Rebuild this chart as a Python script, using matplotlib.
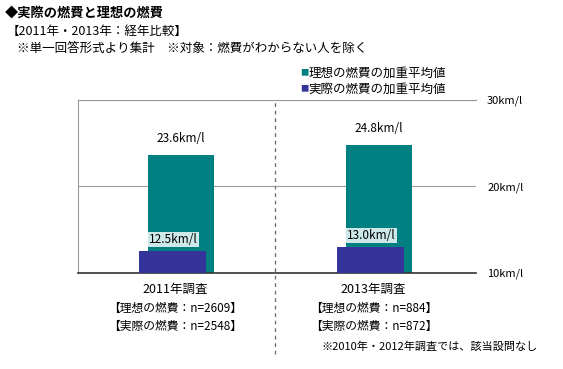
import matplotlib
matplotlib.use("Agg")
import matplotlib.pyplot as plt

plt.rcParams['font.family'] = ['Noto Sans CJK JP', 'DejaVu Sans']

# data
groups = ["2011年調査", "2013年調査"]
sample_notes = [["【理想の燃費：n=2609】", "【実際の燃費：n=2548】"],
                ["【理想の燃費：n=884】", "【実際の燃費：n=872】"]]
ideal = [23.6, 24.8]
actual = [12.5, 13.0]
series_names = ["理想の燃費の加重平均値", "実際の燃費の加重平均値"]
yticks = [10, 20, 30]

teal = "#008080"
navy = "#333399"

fig = plt.figure(figsize=(5.63, 3.69), dpi=100)
ax = fig.add_axes([0.1385, 0.2602, 0.7070, 0.4688])

centers = [0.5, 1.495]
w = 0.332
for i, c in enumerate(centers):
    ax.bar(c + 0.018, ideal[i] - 10, bottom=10, width=w, color=teal, zorder=2)
    ax.bar(c - 0.025, actual[i] - 10, bottom=10, width=w, color=navy, zorder=3)
    ax.text(c + 0.015, ideal[i] + 1.2, "%.1fkm/l" % ideal[i], ha="center", va="bottom", fontsize=8.5)
    ax.text(c - 0.02, actual[i] + 0.6, "%.1fkm/l" % actual[i], ha="center", va="bottom", fontsize=8.5,
            zorder=4, bbox=dict(boxstyle="square,pad=0.1", facecolor="#cde8e8", edgecolor="none"))
    ax.text(c - 0.01, -0.06, groups[i], transform=ax.get_xaxis_transform(), ha="center", va="top", fontsize=9)
    for j, note in enumerate(sample_notes[i]):
        ax.text(c - 0.01, -0.165 - j * 0.105, note, transform=ax.get_xaxis_transform(),
                ha="center", va="top", fontsize=8.5)

ax.set_xlim(0, 2)
ax.set_ylim(10, 30)
ax.set_xticks([])
ax.yaxis.tick_right()
ax.set_yticks(yticks)
ax.set_yticklabels(["%dkm/l" % t for t in yticks], fontsize=8)
ax.tick_params(axis="y", length=0, pad=8)
ax.grid(axis="y", color="#999999", linewidth=0.8, zorder=0)
for s in ["top", "left"]:
    ax.spines[s].set_color("#999999")
ax.spines["right"].set_visible(False)
ax.spines["bottom"].set_color("#333333")
ax.spines["bottom"].set_linewidth(1.2)

ax.axvline(0.99, ymin=-0.47, ymax=1, color="#666666", linestyle=(0, (3, 3)), linewidth=0.9,
           clip_on=False, zorder=1)

# headers
fig.text(0.008, 0.965, "◆実際の燃費と理想の燃費", fontsize=9.5, fontweight="bold", va="center")
fig.text(0.012, 0.915, "【2011年・2013年：経年比較】", fontsize=9, va="center")
fig.text(0.03, 0.868, "※単一回答形式より集計　※対象：燃費がわからない人を除く", fontsize=9, va="center")

# legend
for k, (name, col) in enumerate(zip(series_names, [teal, navy])):
    y = 0.802 - k * 0.043
    fig.text(0.533, y, "■", color=col, fontsize=6, va="center")
    fig.text(0.548, y, name, fontsize=9, va="center")

fig.text(0.955, 0.06, "※2010年・2012年調査では、該当設問なし", fontsize=8, ha="right", va="center")

fig.savefig("out.png", dpi=100)
